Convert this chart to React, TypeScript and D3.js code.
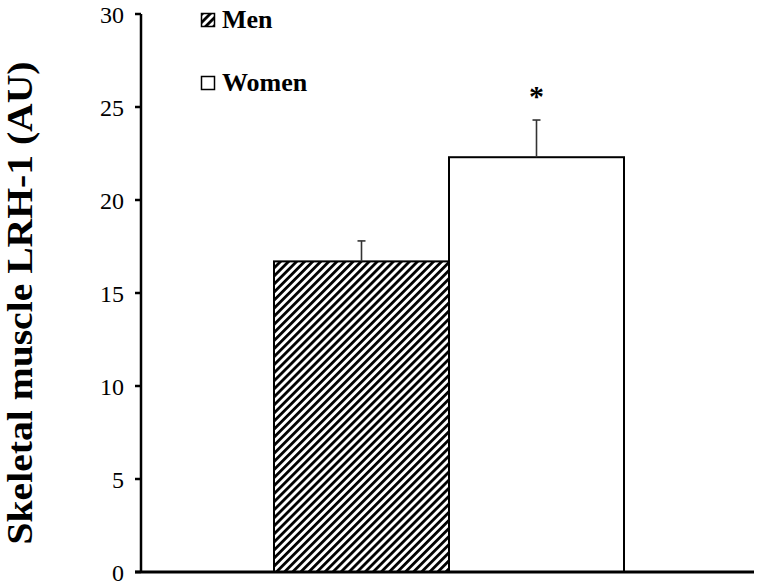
import React from 'react'
import * as d3 from 'd3'

const categories = ['Men', 'Women']
const means = [16.7, 22.3]
const errors = [1.1, 2.0]
const significant = [false, true]
const yTicks = [0, 5, 10, 15, 20, 25, 30]

const W = 760
const H = 587

export default function App() {
  const yScale = d3.scaleLinear().domain([0, 30]).range([572, 14])
  const xScale = d3.scaleBand().domain(categories).range([274, 624]).padding(0)
  const axisX = 141
  const axisEnd = 754
  const font = '"Liberation Serif", "Times New Roman", serif'

  return (
    <svg width={W} height={H} style={{ position: 'absolute', left: 0, top: 0, background: '#fff' }} fontFamily={font}>
      <defs>
        <pattern id="hatch" patternUnits="userSpaceOnUse" width={5.7} height={10} patternTransform="rotate(45)">
          <rect width={5.7} height={10} fill="#fff" />
          <line x1={1.4} y1={0} x2={1.4} y2={10} stroke="#000" strokeWidth={2.8} />
        </pattern>
      </defs>

      {/* bars */}
      {categories.map((c, i) => (
        <rect key={c} x={xScale(c)} y={yScale(means[i])} width={xScale.bandwidth()} height={yScale(0) - yScale(means[i])}
          fill={i === 0 ? 'url(#hatch)' : '#fff'} stroke="#000" strokeWidth={2} />
      ))}

      {/* error bars */}
      {categories.map((c, i) => {
        const cx = xScale(c)! + xScale.bandwidth() / 2
        return (
          <g key={c + 'err'} stroke="#333" strokeWidth={1.6}>
            <line x1={cx} x2={cx} y1={yScale(means[i])} y2={yScale(means[i] + errors[i])} />
            <line x1={cx - 4} x2={cx + 4} y1={yScale(means[i] + errors[i])} y2={yScale(means[i] + errors[i])} />
          </g>
        )
      })}
      {categories.map((c, i) => significant[i] ? (
        <text key={c + 'sig'} x={xScale(c)! + xScale.bandwidth() / 2} y={yScale(means[i] + errors[i]) - 14} textAnchor="middle" fontSize={30} fontWeight="bold">*</text>
      ) : null)}

      {/* axes */}
      <line x1={axisX} x2={axisX} y1={yScale(30)} y2={yScale(0)} stroke="#000" strokeWidth={2.5} />
      <line x1={axisX - 6} x2={axisEnd} y1={yScale(0)} y2={yScale(0)} stroke="#000" strokeWidth={3} />
      {yTicks.map(t => (
        <g key={t}>
          <line x1={axisX - 6} x2={axisX} y1={yScale(t)} y2={yScale(t)} stroke="#000" strokeWidth={2.5} />
          <text x={axisX - 17} y={yScale(t)} dy="0.36em" textAnchor="end" fontSize={24}>{t}</text>
        </g>
      ))}

      <text transform={`translate(32, 303) rotate(-90)`} textAnchor="middle" fontSize={36} fontWeight="bold"
        textLength={483} lengthAdjust="spacingAndGlyphs">Skeletal muscle LRH-1 (AU)</text>

      {/* legend */}
      {categories.map((c, i) => (
        <g key={c + 'leg'} transform={`translate(201, ${13 + i * 63})`}>
          <rect x={0.5} y={0.5} width={13} height={13} fill={i === 0 ? 'url(#hatch)' : '#fff'} stroke="#000" strokeWidth={1.5} />
          <text x={21} y={15} fontSize={26} fontWeight="bold">{c}</text>
        </g>
      ))}
    </svg>
  )
}
